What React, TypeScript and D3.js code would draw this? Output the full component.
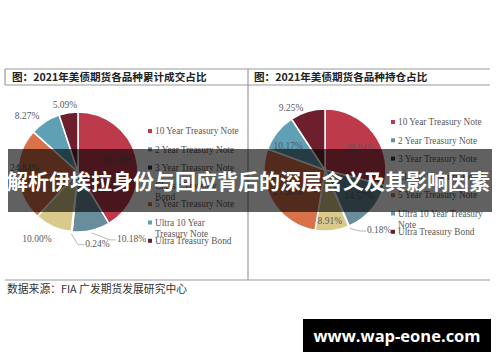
import React from "react";
import * as d3 from "d3";

// 品种名称（图例顺序 = 扇区顺时针顺序）
const contractNames = [
  "10 Year Treasury Note",
  "2 Year Treasury Note",
  "3 Year Treasury Note",
  "Classic Treasury Bond",
  "5 Year Treasury Note",
  "Ultra 10 Year Treasury Note",
  "Ultra Treasury Bond",
];
// 累计成交占比 (%)
const volumeShare = [41.4, 10.18, 0.24, 10.0, 24.84, 8.27, 5.09];
// 持仓占比 (%)
const openInterestShare = [28.94, 14.57, 0.18, 8.91, 27.98, 10.17, 9.25];

const panelTitles = [
  "图：2021年美债期货各品种累计成交占比",
  "图：2021年美债期货各品种持仓占比",
];
// 图例换行（左侧图例较窄）
const legendLinesLeft = [
  ["10 Year Treasury Note"],
  ["2 Year Treasury Note"],
  ["3 Year Treasury Note"],
  ["Classic Treasury", "Bond"],
  ["5 Year Treasury Note"],
  ["Ultra 10 Year", "Treasury Note"],
  ["Ultra Treasury Bond"],
];
const legendLinesRight = [
  ["10 Year Treasury Note"],
  ["2 Year Treasury Note"],
  ["3 Year Treasury Note"],
  ["Classic Treasury Bond"],
  ["5 Year Treasury Note"],
  ["Ultra 10 Year Treasury", "Note"],
  ["Ultra Treasury Bond"],
];
const sourceText = "数据来源：FIA  广发期货发展研究中心";
const bannerText = "解析伊埃拉身份与回应背后的深层含义及其影响因素";
const watermark = "www.wap-eone.com";

const colors = ["#bd3a4b", "#6a8d9b", "#1f4452", "#d9c98a", "#d9724b", "#5fa0b5", "#6e1f2e"];

// 标签摆放：相对扇区中线的角度微调(度)、半径倍数、是否引导线
type Place = { da: number; rf: number; leader?: boolean };
const placeLeft: Place[] = [
  { da: -1.5, rf: 0.68 },
  { da: -17.5, rf: 1.29, leader: true },
  { da: -11.8, rf: 1.2, leader: true },
  { da: 7.2, rf: 1.3 },
  { da: 7, rf: 0.89 },
  { da: -8.7, rf: 1.27 },
  { da: -1.7, rf: 1.15 },
];
const placeRight: Place[] = [
  { da: 5.7, rf: 0.68 },
  { da: -3, rf: 0.7 },
  { da: -11.9, rf: 1.2, leader: true },
  { da: 1.2, rf: 0.84 },
  { da: 0, rf: 0.7 },
  { da: -5.3, rf: 0.72 },
  { da: -11.7, rf: 1.17 },
];

const serif = "'Liberation Serif', 'Times New Roman', serif";
const cjk = "'Noto Sans CJK SC', sans-serif";

function polar(cx: number, cy: number, r: number, a: number): [number, number] {
  return [cx + r * Math.sin(a), cy - r * Math.cos(a)];
}

function Pie({ values, cx, cy, r, place }: { values: number[]; cx: number; cy: number; r: number; place: Place[] }) {
  const pie = d3.pie<number>().sort(null).value((d) => d)(values);
  const arc = d3.arc<d3.PieArcDatum<number>>().innerRadius(0).outerRadius(r);
  const rad = Math.PI / 180;
  return (
    <g>
      {pie.map((s, i) => (
        <path
          key={i}
          d={arc(s) || ""}
          transform={`translate(${cx},${cy})`}
          fill={colors[i]}
          stroke="#fff"
          strokeWidth={1.5}
        />
      ))}
      {pie.map((s, i) => {
        const p = place[i];
        const mid = (s.startAngle + s.endAngle) / 2;
        const [lx, ly] = polar(cx, cy, r * p.rf, mid + p.da * rad);
        const label = s.data.toFixed(2) + "%";
        if (p.leader) {
          const [ex, ey] = polar(cx, cy, r * 1.04, mid);
          return (
            <g key={i}>
              <polyline
                points={`${ex},${ey} ${lx - 7},${ly + 1} ${lx - 1},${ly + 1}`}
                fill="none"
                stroke="#a6a6a6"
                strokeWidth={0.8}
              />
              <text x={lx} y={ly} dy="0.35em" fontSize={9.5} fill="#595959" fontFamily={serif}>
                {label}
              </text>
            </g>
          );
        }
        return (
          <text key={i} x={lx} y={ly} dy="0.35em" textAnchor="middle" fontSize={9.5} fill="#595959" fontFamily={serif}>
            {label}
          </text>
        );
      })}
    </g>
  );
}

function Legend({ lines, x, y0, step }: { lines: string[][]; x: number; y0: number; step: number }) {
  const y = d3.scaleLinear().domain([0, 1]).range([y0, y0 + step]);
  return (
    <g>
      {lines.map((ls, i) => (
        <g key={i}>
          <rect x={x} y={y(i) - 2} width={4} height={4} fill={colors[i]} />
          {ls.map((t, j) => (
            <text key={j} x={x + 7} y={y(i) + j * 11} dy="0.35em" fontSize={9.3} fill="#595959" fontFamily={serif}>
              {t}
            </text>
          ))}
        </g>
      ))}
    </g>
  );
}

export default function App() {
  return (
    <svg
      width={500}
      height={362}
      style={{ position: "absolute", left: 0, top: 0, background: "#fff" }}
    >
      <rect width={500} height={362} fill="#fff" />
      {/* 框线 */}
      <g stroke="#9a9a9a" strokeWidth={1.2}>
        <line x1={5} x2={490} y1={69} y2={69} />
        <line x1={5} x2={490} y1={85} y2={85} />
        <line x1={5} x2={490} y1={280} y2={280} />
        <line x1={5} x2={5} y1={69} y2={85} />
        <line x1={248} x2={248} y1={69} y2={280} />
      </g>
      <text x={12} y={77.5} dy="0.35em" fontSize={10.6} fontWeight={700} fill="#222" fontFamily={cjk}>
        {panelTitles[0]}
      </text>
      <text x={254} y={77.5} dy="0.35em" fontSize={10.6} fontWeight={700} fill="#222" fontFamily={cjk}>
        {panelTitles[1]}
      </text>

      <Pie values={volumeShare} cx={78} cy={172} r={60} place={placeLeft} />
      <Legend lines={legendLinesLeft} x={148} y0={131} step={18.3} />

      <Pie values={openInterestShare} cx={325} cy={170} r={61} place={placeRight} />
      <Legend lines={legendLinesRight} x={391} y0={122} step={18.3} />

      <text x={7} y={289} dy="0.35em" fontSize={10.8} fill="#333" fontFamily={cjk}>
        {sourceText}
      </text>

      {/* 横幅 */}
      <rect x={8} y={149} width={484} height={63} fill="#000" opacity={0.62} />
      <text x={7} y={189} fontSize={21} fontWeight={700} fill="#fff" fontFamily={cjk}>
        {bannerText}
      </text>

      {/* 水印 */}
      <rect x={303} y={319} width={188} height={33} fill="#000" />
      <text x={397} y={336} dy="0.35em" textAnchor="middle" fontSize={16.5} fontWeight={700} fill="#fff" fontFamily="'Open Sans', 'DejaVu Sans', sans-serif">
        {watermark}
      </text>
    </svg>
  );
}
